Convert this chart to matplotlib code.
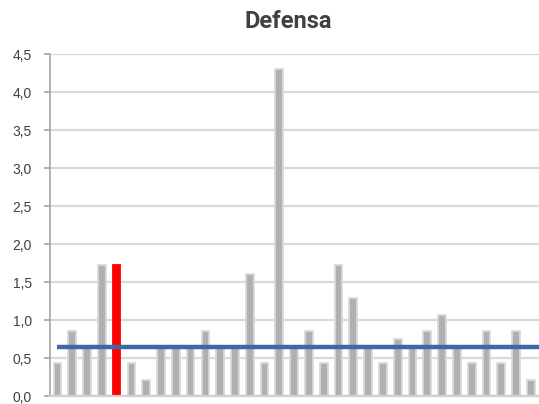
import matplotlib.pyplot as plt
import numpy as np

# values
valores = [0.43, 0.86, 0.64, 1.72, 1.72, 0.43, 0.21, 0.64, 0.64, 0.64, 0.86, 0.64,
           0.64, 1.61, 0.43, 4.30, 0.64, 0.86, 0.43, 1.72, 1.29, 0.64, 0.43, 0.75,
           0.64, 0.86, 1.07, 0.64, 0.43, 0.86, 0.43, 0.86, 0.21]
destacado = 4  # index of the red bar
mediana = 0.64
yticks = [0.0, 0.5, 1.0, 1.5, 2.0, 2.5, 3.0, 3.5, 4.0, 4.5]

plt.rcParams['font.family'] = ['Liberation Sans', 'DejaVu Sans']

fig = plt.figure(figsize=(5.39, 4.04), dpi=100)
ax = fig.add_axes([50 / 539, 1 - 396 / 404, 1 - 50 / 539, (396 - 54) / 404])

x = np.arange(len(valores))
cores = ['#ff0000' if i == destacado else '#b0b0b0' for i in x]
bordas = ['#ff0000' if i == destacado else '#dadada' for i in x]
ax.bar(x, valores, width=0.52, color=cores, edgecolor=bordas, linewidth=1.3, zorder=2)

# median line
ax.plot([0, len(valores)], [mediana, mediana], color='#3b68a8', linewidth=3.2,
        solid_capstyle='butt', zorder=3)

ax.set_xlim(-0.5, 32.55)
ax.set_ylim(0, 4.5)
ax.set_yticks(yticks)
ax.set_yticklabels([f'{v:.1f}'.replace('.', ',') for v in yticks])
ax.set_xticks([])
ax.yaxis.grid(True, color='#d9d9d9', linewidth=1.6, zorder=0)
ax.set_axisbelow(True)

for s in ['top', 'right']:
    ax.spines[s].set_visible(False)
ax.spines['left'].set_color('#a6a6a6')
ax.spines['left'].set_linewidth(1.2)
ax.spines['bottom'].set_color('#d0d0d0')
ax.spines['bottom'].set_linewidth(1.6)
ax.tick_params(axis='y', length=4, width=1.2, color='#a6a6a6', labelsize=10,
               labelcolor='#404040', pad=9)

fig.text(288 / 539, 1 - 22 / 404, 'Defensa', ha='center', va='center',
         fontsize=17, fontweight='bold', color='#404040', family=['Roboto', 'DejaVu Sans'])

fig.savefig('out.png', dpi=100)
